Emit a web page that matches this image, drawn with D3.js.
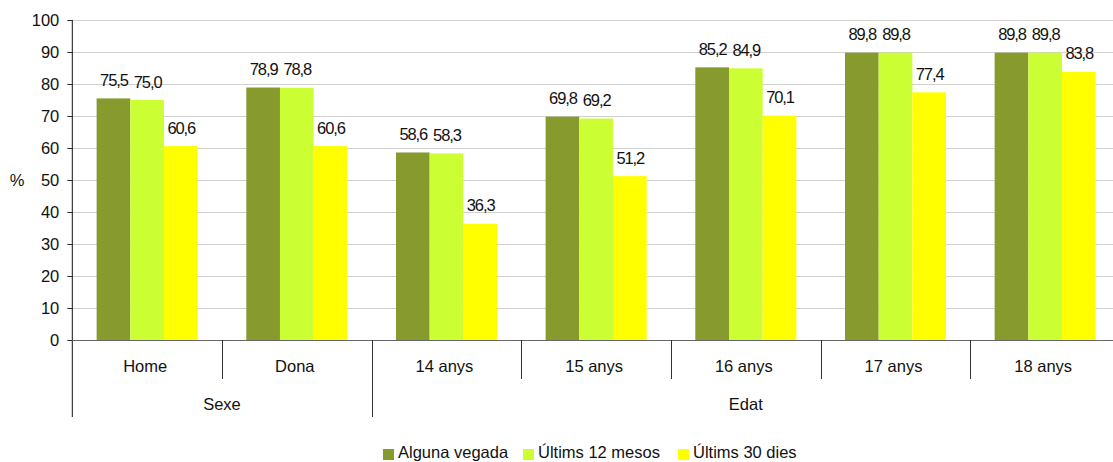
<!DOCTYPE html>
<html><head><meta charset="utf-8">
<script src="https://cdn.jsdelivr.net/npm/d3@7"></script>
<style>body{margin:0;background:#fff}svg{display:block;font-family:"Liberation Sans",Arial,sans-serif}</style>
</head><body><svg id="c" width="1113" height="462"></svg>
<script>
const categories = ["Home","Dona","14 anys","15 anys","16 anys","17 anys","18 anys"];
const groups = [{name:"Sexe", from:0, to:2},{name:"Edat", from:2, to:7}];
const seriesNames = ["Alguna vegada","Últims 12 mesos","Últims 30 dies"];
const alguna = [75.5,78.9,58.6,69.8,85.2,89.8,89.8];
const ultims12 = [75.0,78.8,58.3,69.2,84.9,89.8,89.8];
const ultims30 = [60.6,60.6,36.3,51.2,70.1,77.4,83.8];
const yTicks = [0,10,20,30,40,50,60,70,80,90,100];
const colors = ["#869A2E","#CCFF33","#FFFF00"];
const series = [alguna, ultims12, ultims30];

const FS = 16.5;
const svg = d3.select("#c");
const L = 72.3, R = 1120, T = 20, B = 340;
const x = d3.scaleBand().domain(d3.range(categories.length)).range([L,R]).paddingInner(0).paddingOuter(0);
const y = d3.scaleLinear().domain([0,100]).range([B,T]);
const bw = x.bandwidth();
const inner = d3.scaleBand().domain(d3.range(3)).range([0, bw*0.675]);
const off = bw*(1-0.675)/2;

// gridlines
svg.append("g").selectAll("line").data(yTicks.filter(d=>d>0)).join("line")
  .attr("x1",L).attr("x2",R).attr("y1",d=>Math.round(y(d))+0.5).attr("y2",d=>Math.round(y(d))+0.5)
  .attr("stroke","#D0D0D0").attr("stroke-width",1);

// bars
series.forEach((s,si)=>{
  svg.append("g").selectAll("rect").data(s).join("rect")
    .attr("x",(d,i)=>x(i)+off+inner(si)).attr("width",inner.bandwidth())
    .attr("y",d=>y(d)).attr("height",d=>B-y(d)).attr("fill",colors[si]);
  svg.append("g").selectAll("text").data(s).join("text")
    .attr("x",(d,i)=>x(i)+off+inner(si)+inner.bandwidth()/2+0.5)
    .attr("y",d=>y(d)-12.5).attr("text-anchor","middle")
    .attr("font-size",FS).attr("letter-spacing","-1.1px").attr("fill","#111")
    .text(d=>d.toFixed(1).replace(".",","));
});

// y axis
const yAxis = d3.axisLeft(y).tickValues(yTicks).tickSize(5).tickPadding(8);
const ga = svg.append("g").attr("transform",`translate(${L},0)`).call(yAxis);
ga.select(".domain").remove();
ga.selectAll("line").attr("stroke","#333");
ga.selectAll("text").attr("font-size",FS).attr("fill","#111").attr("font-family","Liberation Sans, Arial, sans-serif").attr("dy","0.36em");
svg.append("line").attr("x1",L).attr("x2",L).attr("y1",T).attr("y2",417).attr("stroke","#111");
// x baseline
svg.append("line").attr("x1",L).attr("x2",R).attr("y1",B+0.5).attr("y2",B+0.5).attr("stroke","#666").attr("stroke-width",1.2);

// category dividers and labels
svg.append("g").selectAll("line").data(d3.range(1,categories.length)).join("line")
  .attr("x1",i=>Math.round(x(i))+0.5).attr("x2",i=>Math.round(x(i))+0.5)
  .attr("y1",B).attr("y2",i=>groups.some(g=>g.from===i)?417:379)
  .attr("stroke","#333");
svg.append("g").selectAll("text").data(categories).join("text")
  .attr("x",(d,i)=>x(i)+bw/2-2).attr("y",372).attr("text-anchor","middle")
  .attr("font-size",FS).attr("fill","#111").text(d=>d);
svg.append("g").selectAll("text").data(groups).join("text")
  .attr("x",g=>(x(g.from)+(g.to<categories.length?x(g.to):R))/2).attr("y",410).attr("text-anchor","middle")
  .attr("font-size",FS).attr("fill","#111").text(g=>g.name);

// y label
svg.append("text").attr("x",17).attr("y",186).attr("text-anchor","middle").attr("font-size",FS).attr("fill","#111").text("%");

// legend
const legX = [383,523,678];
const lg = svg.append("g");
seriesNames.forEach((n,i)=>{
  lg.append("rect").attr("x",legX[i]).attr("y",449).attr("width",11).attr("height",11).attr("fill",colors[i]);
  lg.append("text").attr("x",legX[i]+15).attr("y",458).attr("font-size",FS).attr("fill","#111").text(n);
});
</script></body></html>
